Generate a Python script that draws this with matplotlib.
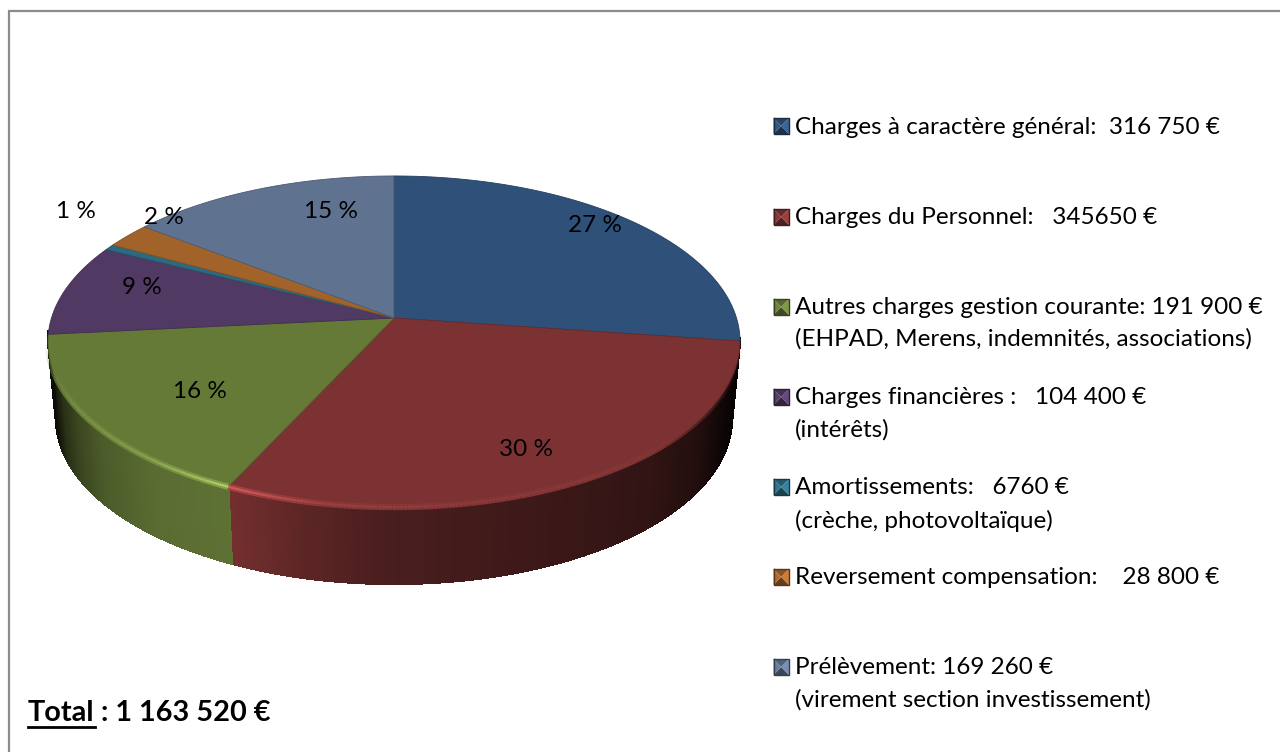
#!/usr/bin/env python3
import numpy as np
import matplotlib
matplotlib.use('Agg')
import matplotlib.pyplot as plt
from matplotlib.collections import PolyCollection, LineCollection
from matplotlib.colors import to_rgb

# Budget values in euros
values = [316750, 345650, 191900, 104400, 6760, 28800, 169260]
pct_labels = ['27 %', '30 %', '16 %', '9 %', '1 %', '2 %', '15 %']
slice_colors = ['#2f5078', '#7c3232', '#667a38', '#503a63', '#2b6a80', '#a2632a', '#5f7290']
legend_lines = [
    ['Charges à caractère général:  316 750 €'],
    ['Charges du Personnel:   345650 €'],
    ['Autres charges gestion courante: 191 900 €', '(EHPAD, Merens, indemnités, associations)'],
    ['Charges financières :   104 400 €', '(intérêts)'],
    ['Amortissements:   6760 €', '(crèche, photovoltaïque)'],
    ['Reversement compensation:    28 800 €'],
    ['Prélèvement: 169 260 €', '(virement section investissement)'],
]
total_word = 'Total'
total_rest = ' : 1 163 520 €'

# where the labels sit on the picture (pixels)
pct_pos = [(595, 226), (526, 449), (200, 391), (142, 287), (76, 212), (164, 217), (331, 212)]
legend_y = [[127], [218], [308, 339], [398, 430], [488, 521], [578], [668, 700]]

# only these slices show a side wall
wall_slices = [1, 2]

FONT = 'Lato'
TXT = 17.5
TOTAL_TXT = 20.8

# perspective of the disc
K = 0.142
CX = 394


def project(theta, y0=318.0, a=162.2, b=342.5):
    # theta is clockwise from the top of the pie
    x = np.sin(theta)
    y = -np.cos(theta)
    w = 1 - K * y
    return CX + b * x / w, y0 + a * y / w


def wall_shade(px):
    return np.interp(px, [48, 52, 60, 75, 100, 150, 232, 300, 380, 550, 650, 700, 725, 742],
                     [0.1, 0.2, 0.4, 0.58, 0.75, 0.88, 0.93, 0.75, 0.6, 0.48, 0.4, 0.28, 0.12, 0.03])


def rim_glow(px):
    return np.interp(px, [48, 75, 150, 225, 245, 330, 450, 600, 742],
                     [0.0, 0.15, 0.3, 0.62, 0.55, 0.2, 0.12, 0.08, 0.0])


fig = plt.figure(figsize=(12.8, 7.52), dpi=100)
ax = fig.add_axes([0, 0, 1, 1])
ax.set_xlim(0, 1280)
ax.set_ylim(752, 0)
ax.axis('off')

# frame: only the top and left sides show
ax.plot([8.5, 8.5, 1280], [752, 10.5, 10.5], color='#8c8c8c', lw=1.6, solid_joinstyle='miter')

fracs = np.array(values) / sum(values)
edges = np.concatenate([[0], np.cumsum(fracs)]) * 2 * np.pi

# side wall, drawn as thin strips so the shading runs sideways
for i in wall_slices:
    th = np.linspace(edges[i], edges[i + 1], 500)
    tx, ty = project(th)
    bx, by = project(th, y0=395.0, b=334.6)
    base = np.array(to_rgb(slice_colors[i]))
    polys = []
    cols = []
    for j in range(len(th) - 1):
        polys.append([(tx[j], ty[j] - 3), (tx[j + 1], ty[j + 1] - 3), (bx[j + 1], by[j + 1]), (bx[j], by[j])])
        cols.append(np.clip(base * wall_shade((tx[j] + tx[j + 1]) / 2), 0, 1))
    ax.add_collection(PolyCollection(polys, facecolors=cols, edgecolors=cols, linewidths=0.8,
                                     antialiaseds=False, zorder=2))

# top of the disc
for i, col in enumerate(slice_colors):
    th = np.linspace(edges[i], edges[i + 1], 200)
    px, py = project(th)
    ax.fill(np.r_[CX, px], np.r_[318, py], facecolor=col, edgecolor=np.array(to_rgb(col)) * 0.8,
            lw=0.6, joinstyle='round', zorder=3)

# bevel along the front rim, fading out at both tips
for i in wall_slices:
    th = np.linspace(edges[i], edges[i + 1], 200)
    px, py = project(th)
    pts = np.column_stack([px, py])
    segs = np.stack([pts[:-1], pts[1:]], axis=1)
    base = np.array(to_rgb(slice_colors[i]))
    glow = rim_glow((px[:-1] + px[1:]) / 2)
    fade = np.clip(glow / 0.05, 0, 1)
    soft = [np.r_[np.clip(base * (1 + g * 0.55), 0, 1), f] for g, f in zip(glow, fade)]
    bright = [np.r_[np.clip(base * (1 + g * 1.1) + 0.05 * g, 0, 1), f] for g, f in zip(glow, fade)]
    ax.add_collection(LineCollection(segs, colors=soft, linewidths=4.5, zorder=4, capstyle='butt'))
    ax.add_collection(LineCollection(segs, colors=bright, linewidths=1.6, zorder=5, capstyle='butt'))

for lab, (x, y) in zip(pct_labels, pct_pos):
    ax.text(x, y, lab, family=FONT, fontsize=TXT, color='black', ha='center', va='center', zorder=6)

# legend with the little bevelled squares
for col, lines, ys in zip(slice_colors, legend_lines, legend_y):
    x0, x1 = 773.5, 789
    y0, y1 = ys[0] - 9, ys[0] + 7
    mx, my = (x0 + x1) / 2, (y0 + y1) / 2
    base = np.array(to_rgb(col))
    ax.fill([x0, x1, mx], [y0, y0, my], color=base * 0.85, lw=0, zorder=3)
    ax.fill([x0, x1, mx], [y1, y1, my], color=base * 0.62, lw=0, zorder=3)
    ax.fill([x0, x0, mx], [y0, y1, my], color=np.clip(base * 1.1, 0, 1), lw=0, zorder=3)
    ax.fill([x1, x1, mx], [y0, y1, my], color=np.clip(base * 1.25, 0, 1), lw=0, zorder=3)
    ax.plot([x0, x1, x1, x0, x0], [y0, y0, y1, y1, y0], color=base * 0.55, lw=1, zorder=4)
    for txt, y in zip(lines, ys):
        ax.text(795, y, txt, family=FONT, fontsize=TXT, color='black', ha='left', va='center')

# total, with only the word underlined
t1 = ax.text(28, 713, total_word, family=FONT, fontsize=TOTAL_TXT, fontweight='bold', ha='left', va='center')
fig.canvas.draw()
bb = t1.get_window_extent()
x_end = 28 + bb.width
ax.text(x_end, 713, total_rest, family=FONT, fontsize=TOTAL_TXT, fontweight='bold', ha='left', va='center')
ax.plot([28, x_end], [727, 727], color='black', lw=2)

fig.savefig('out.png', dpi=100)
